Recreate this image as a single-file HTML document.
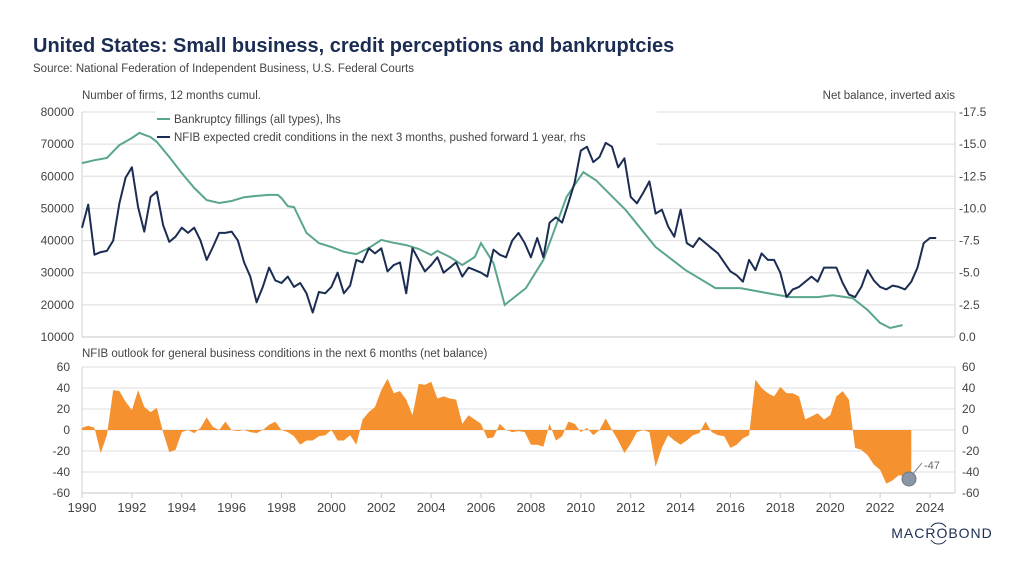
<!DOCTYPE html>
<html><head><meta charset="utf-8">
<style>
html,body{margin:0;padding:0;background:#fff;}
body{width:1024px;height:576px;overflow:hidden;font-family:"Liberation Sans",sans-serif;}
svg text{font-family:"Liberation Sans",sans-serif;}
</style></head>
<body>
<svg id="chart" width="1024" height="576" viewBox="0 0 1024 576" xmlns="http://www.w3.org/2000/svg">
<text x="33" y="52" font-size="20" font-weight="bold" fill="#1b2d52">United States: Small business, credit perceptions and bankruptcies</text>
<text x="33" y="72" font-size="11.5" fill="#444">Source: National Federation of Independent Business, U.S. Federal Courts</text>
<text x="82" y="99" font-size="11.5" fill="#444">Number of firms, 12 months cumul.</text>
<text x="955" y="99" font-size="11.5" fill="#444" text-anchor="end">Net balance, inverted axis</text>
<text x="82" y="357" font-size="11.5" fill="#444">NFIB outlook for general business conditions in the next 6 months (net balance)</text>
<g id="grid"></g>
<g>
<rect x="155" y="108" width="502" height="42" fill="#fff"/>
<line x1="157" y1="119" x2="170" y2="119" stroke="#5aa68c" stroke-width="2"/>
<text x="174" y="123" font-size="11.5" fill="#444">Bankruptcy fillings (all types), lhs</text>
<line x1="157" y1="137" x2="170" y2="137" stroke="#1b2d52" stroke-width="2"/>
<text x="174" y="141" font-size="11.5" fill="#444">NFIB expected credit conditions in the next 3 months, pushed forward 1 year, rhs</text>
</g>
<g id="marks"></g>
<g id="axes"></g>
<g>
<line x1="911" y1="476" x2="922" y2="463" stroke="#888" stroke-width="1"/>
<circle cx="909" cy="479" r="7" fill="#8a95a5" stroke="#6e7888"/>
<text x="924" y="469" font-size="11" fill="#666">-47</text>
</g>
<g>
<text x="942" y="538" font-size="14" fill="#1b2d52" text-anchor="middle" letter-spacing="1">MACROBOND</text>
<path d="M931 527 A9 9 0 0 1 946 527 M931 540 A9 9 0 0 0 946 540" stroke="#1b2d52" fill="none" stroke-width="1"/>
</g>
</svg>
<script>
// Bankruptcy filings (lhs)
const bkYears=[1990,1990.5,1991,1991.5,1992,1992.3,1992.75,1993,1993.5,1994,1994.5,1995,1995.5,1996,1996.5,1997,1997.5,1997.85,1998,1998.25,1998.5,1999,1999.5,2000,2000.5,2001,2001.5,2002,2002.5,2003,2003.5,2004,2004.25,2004.75,2005.25,2005.75,2006,2006.5,2006.95,2007.8,2008.5,2009.43,2010.1,2010.6,2011.8,2013,2014.2,2015.4,2016.4,2017.45,2018.4,2019.5,2020.1,2020.9,2021.5,2022,2022.4,2022.9];
const bkValues=[64100,65000,65700,69700,71900,73500,72200,70700,66000,61000,56400,52600,51700,52300,53500,53900,54200,54200,53200,50700,50400,42400,39200,38000,36500,35800,37700,40200,39300,38600,37400,35500,36800,34900,32400,34900,39200,33000,20000,25200,34000,53600,61300,58800,49500,38000,30800,25200,25200,23700,22400,22400,23000,22100,18400,14400,12800,13700];
// NFIB credit conditions (rhs, net balance, quarterly from 1990.0)
const crStart=1990;
const crValues=[-8.5,-10.3,-6.4,-6.6,-6.7,-7.5,-10.4,-12.4,-13.2,-10.1,-8.2,-10.9,-11.3,-8.7,-7.4,-7.8,-8.5,-8.1,-8.5,-7.5,-6.0,-7.0,-8.1,-8.1,-8.2,-7.5,-5.8,-4.7,-2.7,-3.9,-5.4,-4.4,-4.2,-4.7,-3.9,-4.2,-3.4,-1.9,-3.5,-3.4,-3.9,-5.0,-3.4,-4.0,-6.0,-5.8,-6.9,-6.5,-6.9,-5.1,-5.6,-5.8,-3.4,-6.9,-6.0,-5.1,-5.6,-6.2,-5.0,-5.4,-5.8,-4.7,-5.4,-5.2,-5.0,-4.7,-6.8,-6.4,-6.2,
-7.5,-8.1,-7.3,-6.2,-7.7,-6.2,-8.9,-9.3,-8.9,-10.4,-12.0,-14.5,-14.8,-13.6,-14.0,-15.1,-14.8,-13.2,-13.9,-10.9,-10.4,-11.2,-12.1,-9.6,-9.9,-8.6,-7.8,-9.9,-7.3,-7.0,-7.7,-7.3,-6.9,-6.5,-5.8,-5.1,-4.8,-4.3,-6.0,-5.2,-6.5,-6.0,-6.0,-5.0,-3.1,-3.7,-3.9,-4.3,-4.7,-4.3,-5.4,-5.4,-5.4,-4.2,-3.3,-3.1,-3.9,-5.2,-4.4,-3.9,-3.7,-4.0,-3.9,-3.7,-4.3,-5.4,-7.3,-7.7,-7.7];
// NFIB outlook (bottom, quarterly from 1990.0)
const outStart=1990;
const outValues=[2,4,2,-22,-5,38,37,27,19,38,22,17,21,-2,-21,-19,-2,0,-3,2,12,3,0,8,0,-1,0,-2,-3,0,5,8,0,-2,-6,-14,-10,-10,-6,-5,0,-10,-10,-5,-14,10,17,22,38,49,35,37,29,14,44,43,46,30,32,30,29,6,14,10,6,-8,-7,6,
0,-2,-1,-2,-14,-14,-16,6,-10,-6,8,6,-2,2,-5,0,11,0,-10,-22,-13,-2,0,-2,-35,-17,-5,-10,-14,-10,-5,-3,8,-2,-5,-6,-17,-14,-8,-5,48,40,35,32,41,35,35,32,10,13,16,10,14,32,37,29,-17,-19,-24,-33,-38,-51,-48,-43,-44,-47];
const lhsTicks=[10000,20000,30000,40000,50000,60000,70000,80000];
const rhsTicks=[0,-2.5,-5,-7.5,-10,-12.5,-15,-17.5];
const botTicks=[-60,-40,-20,0,20,40,60];
const yearTicks=[1990,1992,1994,1996,1998,2000,2002,2004,2006,2008,2010,2012,2014,2016,2018,2020,2022,2024];

const NS='http://www.w3.org/2000/svg';
const X0=82,XR=955;
const xs=y=>82+(y-1990)*24.94;
const yL=v=>337-(v-10000)*225/70000;
const yR=v=>337+v*225/17.5;
const yB=v=>430-v*126/120;
function mk(tag,attrs,parent){const e=document.createElementNS(NS,tag);for(const k in attrs)e.setAttribute(k,attrs[k]);parent.appendChild(e);return e;}
const grid=document.getElementById('grid'),marks=document.getElementById('marks'),axes=document.getElementById('axes');

lhsTicks.forEach((t,i)=>{
  const y=yL(t);
  const g=mk('line',{x1:X0,x2:XR,y1:y,y2:y,stroke:'#e3e3e3','stroke-width':1.2},grid);
  
  
  const l=mk('text',{x:74,y:y+4,'font-size':12,fill:'#444','text-anchor':'end'},axes);
  l.textContent=String(t);
  
  
});
rhsTicks.forEach(t=>{
  const y=yR(t);
  const l=mk('text',{x:959,y:y+4,'font-size':12,fill:'#444'},axes);
  l.textContent=t===0?'0.0':(Number.isInteger(t)?t.toFixed(1):String(t));
  
  
});
botTicks.forEach(t=>{
  const y=yB(t);
  const g=mk('line',{x1:X0,x2:XR,y1:y,y2:y,stroke:'#e3e3e3','stroke-width':1.2},grid);
  
  
  const l=mk('text',{x:70,y:y+4,'font-size':12,fill:'#444','text-anchor':'end'},axes);
  l.textContent=String(t);
  
  
  const r=mk('text',{x:962,y:y+4,'font-size':12,fill:'#444'},axes);
  r.textContent=String(t);
  
  
});
[[X0,112,X0,337],[XR,112,XR,337],[X0,367,X0,493],[XR,367,XR,493],[X0,337,XR,337],[X0,493,XR,493]].forEach(a=>{
  const l=mk('line',{x1:a[0],y1:a[1],x2:a[2],y2:a[3],stroke:'#d8d8d8','stroke-width':1.2},grid);
  
  
});
yearTicks.forEach(yr=>{
  const x=xs(yr);
  const t=mk('line',{x1:x,x2:x,y1:493,y2:498,stroke:'#ccc'},axes);
  
  
  const l=mk('text',{x:x,y:512,'font-size':13,fill:'#444','text-anchor':'middle'},axes);
  l.textContent=String(yr);
  
  
});
let d='M'+xs(outStart)+','+yB(0);
outValues.forEach((v,i)=>{d+=' L'+xs(outStart+i*0.25).toFixed(1)+','+yB(v).toFixed(1);});
d+=' L'+xs(outStart+(outValues.length-1)*0.25).toFixed(1)+','+yB(0)+' Z';
const area=mk('path',{d:d,fill:'#f5922f'},marks);


const bk=mk('path',{d:bkValues.map((v,i)=>(i?'L':'M')+xs(bkYears[i]).toFixed(1)+','+yL(v).toFixed(1)).join(' '),fill:'none',stroke:'#5aa68c','stroke-width':2},marks);


const cr=mk('path',{d:crValues.map((v,i)=>(i?'L':'M')+xs(crStart+i*0.25).toFixed(1)+','+yR(v).toFixed(1)).join(' '),fill:'none',stroke:'#1b2d52','stroke-width':2,'stroke-linejoin':'round'},marks);


</script>
</body></html>
